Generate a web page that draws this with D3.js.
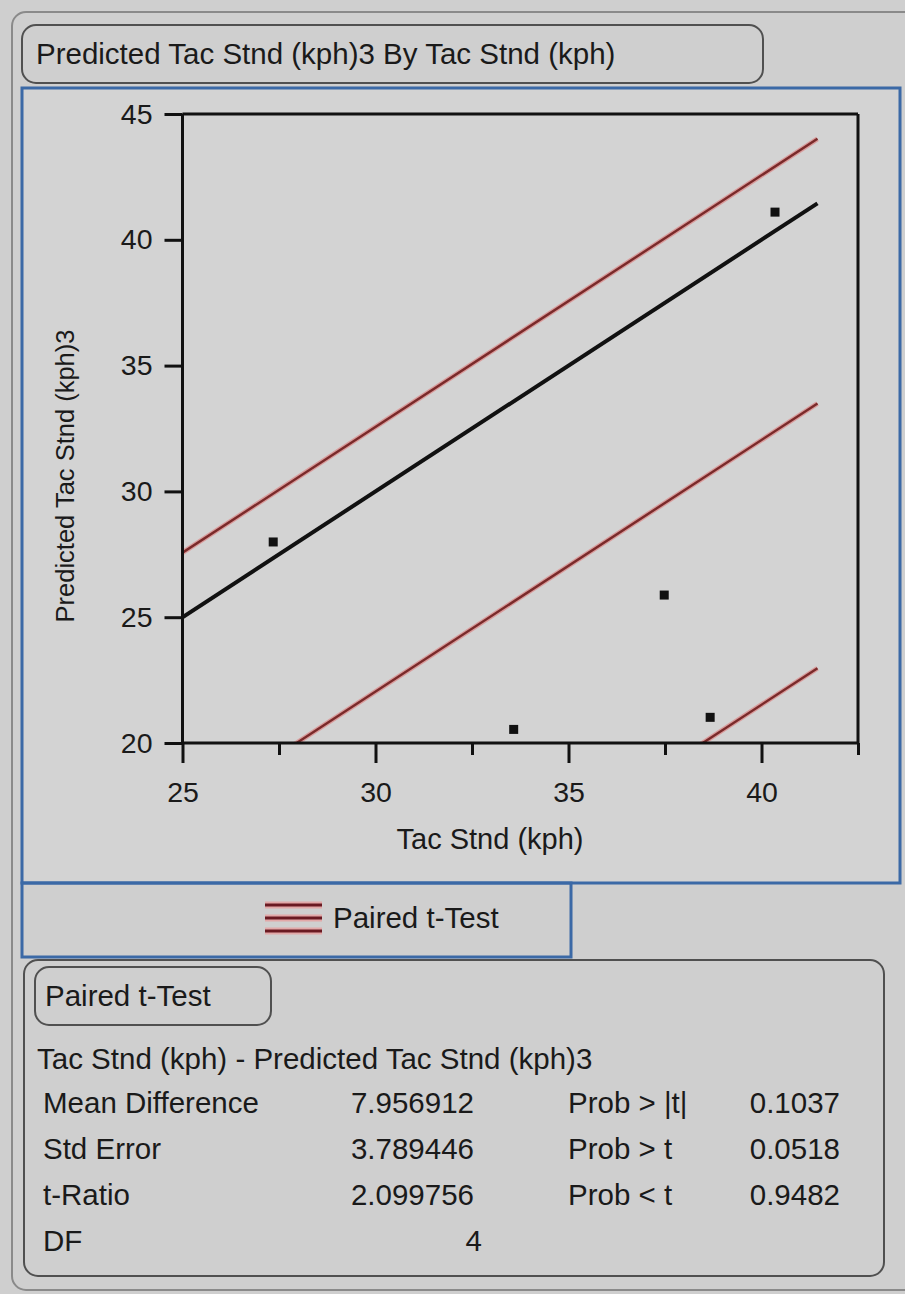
<!DOCTYPE html>
<html>
<head>
<meta charset="utf-8">
<script src="https://cdn.jsdelivr.net/npm/d3@7"></script>
<style>
  html, body { margin: 0; padding: 0; background: #cfcfcf; }
  svg { display: block; }
  text { font-family: "Liberation Sans", Arial, sans-serif; fill: #1a1a1a; }
</style>
</head>
<body>
<svg id="chart" width="905" height="1294"></svg>
<script>
// ---------- data ----------
const titleText = "Predicted Tac Stnd (kph)3 By Tac Stnd (kph)";
const xLabel = "Tac Stnd (kph)";
const yLabel = "Predicted Tac Stnd (kph)3";
const xValues = [27.35, 33.58, 37.48, 38.67, 40.35];   // Tac Stnd (kph)
const yValues = [27.99, 20.54, 25.88, 21.02, 41.10];   // Predicted Tac Stnd (kph)3
const xTicks = [25, 30, 35, 40];
const xMinorTicks = [27.5, 32.5, 37.5, 42.5];
const yTicks = [20, 25, 30, 35, 40, 45];
const lineXRange = [25, 41.45];
const identityOffset = [0];
const tTestOffsets = [2.564, -7.957, -18.478];  // upper CI, mean difference, lower CI
const legendLabel = "Paired t-Test";
const tableTitle = "Paired t-Test";
const tableHeader = "Tac Stnd (kph) - Predicted Tac Stnd (kph)3";
const rowLabels = ["Mean Difference", "Std Error", "t-Ratio", "DF"];
const rowValues = ["7.956912", "3.789446", "2.099756", "4"];
const probLabels = ["Prob > |t|", "Prob > t", "Prob < t"];
const probValues = ["0.1037", "0.0518", "0.9482"];

// ---------- layout ----------
const svg = d3.select("#chart");
const blue = "#3b69a6";
const boxStroke = "#505050";
const fs = 29.5;

svg.append("rect").attr("x", 0).attr("y", 0).attr("width", 905).attr("height", 1294).attr("fill", "#cfcfcf");

// outer frame
svg.append("rect").attr("x", 12).attr("y", 12).attr("width", 920).attr("height", 1278)
  .attr("rx", 14).attr("fill", "none").attr("stroke", "#8a8a8a").attr("stroke-width", 2);

// title box
svg.append("rect").attr("x", 22).attr("y", 25).attr("width", 741).attr("height", 58)
  .attr("rx", 14).attr("fill", "none").attr("stroke", boxStroke).attr("stroke-width", 2);
svg.append("text").attr("x", 36).attr("y", 64).attr("font-size", fs).text(titleText);

// plot panel (blue)
svg.append("rect").attr("x", 22).attr("y", 88).attr("width", 878).attr("height", 795)
  .attr("fill", "#d3d3d3").attr("stroke", blue).attr("stroke-width", 3);

// scales
const x = d3.scaleLinear().domain([25, 42.5]).range([182.5, 858]);
const y = d3.scaleLinear().domain([20, 45]).range([743, 114]);

// clip
svg.append("clipPath").attr("id", "plotClip").append("rect")
  .attr("x", x(25)).attr("y", y(45)).attr("width", x(42.5) - x(25)).attr("height", y(20) - y(45));

const plot = svg.append("g").attr("clip-path", "url(#plotClip)");

const lineGen = d3.line().x(d => x(d[0])).y(d => y(d[1]));

// red paired t-test lines
tTestOffsets.forEach(off => {
  const pts = lineXRange.map(v => [v, v + off]);
  plot.append("path").attr("d", lineGen(pts)).attr("fill", "none")
    .attr("stroke", "#d89c9c").attr("stroke-width", 5);
  plot.append("path").attr("d", lineGen(pts)).attr("fill", "none")
    .attr("stroke", "#7a2a2a").attr("stroke-width", 2.4);
});

// identity line
identityOffset.forEach(off => {
  const pts = lineXRange.map(v => [v, v + off]);
  plot.append("path").attr("d", lineGen(pts)).attr("fill", "none")
    .attr("stroke", "#111").attr("stroke-width", 4);
});

// points
const sq = 9;
plot.selectAll("rect.pt").data(xValues.map((v, i) => [v, yValues[i]])).enter()
  .append("rect").attr("class", "pt")
  .attr("x", d => x(d[0]) - sq / 2).attr("y", d => y(d[1]) - sq / 2)
  .attr("width", sq).attr("height", sq).attr("fill", "#111");

// frame top/right
svg.append("line").attr("x1", x(25)).attr("x2", x(42.5)).attr("y1", y(45)).attr("y2", y(45))
  .attr("stroke", "#111").attr("stroke-width", 3);
svg.append("line").attr("x1", x(42.5)).attr("x2", x(42.5)).attr("y1", y(45)).attr("y2", y(20))
  .attr("stroke", "#111").attr("stroke-width", 3);

// axes
const yAxis = svg.append("g").attr("transform", `translate(${x(25)},0)`)
  .call(d3.axisLeft(y).tickValues(yTicks).tickSize(18).tickPadding(12));
const xAxis = svg.append("g").attr("transform", `translate(0,${y(20)})`)
  .call(d3.axisBottom(x).tickValues(xTicks).tickSize(20).tickPadding(19));
const xMinor = svg.append("g").attr("transform", `translate(0,${y(20)})`)
  .call(d3.axisBottom(x).tickValues(xMinorTicks).tickSize(12).tickFormat(""));
[yAxis, xAxis, xMinor].forEach(g => {
  g.select(".domain").attr("stroke", "#111").attr("stroke-width", 3);
  g.selectAll(".tick line").attr("stroke", "#111").attr("stroke-width", 3);
  g.selectAll(".tick text").attr("font-size", 28.5).attr("fill", "#1a1a1a")
    .attr("font-family", "Liberation Sans, Arial, sans-serif");
});
yAxis.select(".domain").attr("d", `M0,${y(45)}V${y(20)}`);
xAxis.select(".domain").attr("d", `M${x(25)},0H${x(42.5)}`);
xMinor.select(".domain").remove();

// axis labels
svg.append("text").attr("x", 490).attr("y", 849).attr("text-anchor", "middle")
  .attr("font-size", 29).text(xLabel);
svg.append("text").attr("transform", "translate(74,476) rotate(-90)").attr("text-anchor", "middle")
  .attr("font-size", 25.5).text(yLabel);

// legend box
svg.append("rect").attr("x", 22).attr("y", 883).attr("width", 549).attr("height", 74)
  .attr("fill", "none").attr("stroke", blue).attr("stroke-width", 3);
[905, 918, 931].forEach(ly => {
  svg.append("line").attr("x1", 265).attr("x2", 322).attr("y1", ly).attr("y2", ly)
    .attr("stroke", "#e2a8a8").attr("stroke-width", 7);
  svg.append("line").attr("x1", 265).attr("x2", 322).attr("y1", ly).attr("y2", ly)
    .attr("stroke", "#6a1a22").attr("stroke-width", 3);
});
svg.append("text").attr("x", 333).attr("y", 928).attr("font-size", fs).text(legendLabel);

// results section
svg.append("rect").attr("x", 24).attr("y", 960).attr("width", 860).attr("height", 316)
  .attr("rx", 14).attr("fill", "none").attr("stroke", boxStroke).attr("stroke-width", 2);
svg.append("rect").attr("x", 35).attr("y", 967).attr("width", 236).attr("height", 58)
  .attr("rx", 14).attr("fill", "none").attr("stroke", boxStroke).attr("stroke-width", 2);
svg.append("text").attr("x", 45).attr("y", 1006).attr("font-size", fs).text(tableTitle);
svg.append("text").attr("x", 37).attr("y", 1069).attr("font-size", fs).text(tableHeader);

const rowY = [1113, 1159, 1205, 1251];
rowLabels.forEach((lab, i) => {
  svg.append("text").attr("x", 43).attr("y", rowY[i]).attr("font-size", fs).text(lab);
  svg.append("text").attr("x", i === 3 ? 482 : 474).attr("y", rowY[i]).attr("text-anchor", "end")
    .attr("font-size", fs).text(rowValues[i]);
});
probLabels.forEach((lab, i) => {
  svg.append("text").attr("x", 568).attr("y", rowY[i]).attr("font-size", fs).text(lab);
  svg.append("text").attr("x", 840).attr("y", rowY[i]).attr("text-anchor", "end")
    .attr("font-size", fs).text(probValues[i]);
});
</script>
</body>
</html>
